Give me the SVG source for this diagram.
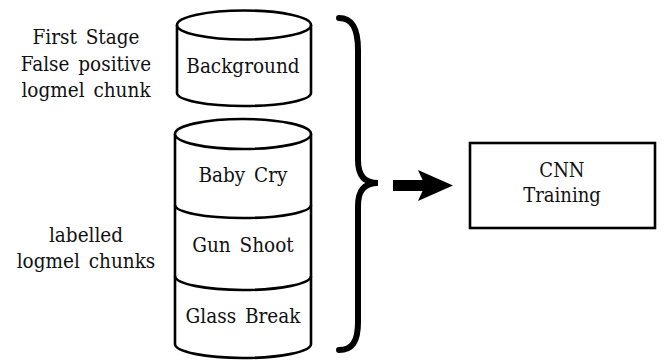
<svg xmlns="http://www.w3.org/2000/svg" width="667" height="360" viewBox="0 0 667 360">
<style>
text{font-family:"DejaVu Serif Condensed","DejaVu Serif","Liberation Serif",serif;font-stretch:condensed;font-size:20.5px;fill:#111;text-anchor:middle;word-spacing:3px}
.s{fill:none;stroke:#000;stroke-width:2.6}
.w{fill:#fff;stroke:#000;stroke-width:2.6}
</style>
<rect width="667" height="360" fill="#fff"/>
<g id="labels">
<text x="86" y="44">First Stage</text>
<text x="86" y="71">False positive</text>
<text x="86" y="97">logmel chunk</text>
<text x="86" y="242">labelled</text>
<text x="86" y="268">logmel chunks</text>
</g>
<g id="background">
<path class="w" d="M177,25 L177,93 A67,13 0 0 0 311,93 L311,25"/>
<ellipse class="w" cx="244" cy="25" rx="67" ry="14.5"/>
<text x="243" y="73">Background</text>
</g>
<g id="labelled-stack">
<path class="w" d="M175,134 L175,344 A68,14 0 0 0 311,344 L311,134"/>
<ellipse class="w" cx="243" cy="134" rx="68" ry="15"/>
<path class="s" d="M175,205 A68,13 0 0 0 311,205"/>
<path class="s" d="M175,276 A68,14 0 0 0 311,276"/>
<text x="243" y="182">Baby Cry</text>
<text x="243" y="252">Gun Shoot</text>
<text x="243" y="323">Glass Break</text>
</g>
<g id="cnn">
<rect class="w" x="470" y="143" width="185" height="85"/>
<text x="562" y="177" style="font-size:20px">CNN</text>
<text x="562" y="202" style="font-size:20px">Training</text>
</g>
<g id="connectors">
<path d="M339,18 C352,18 358,28 358,50 L358,160 C358,175 364,183 378,183 C364,183 358,191 358,206 L358,322 C358,342 352,350 339,350" fill="none" stroke="#000" stroke-width="6" stroke-linecap="round"/>
<rect x="393" y="180" width="32" height="11" fill="#000"/>
<polygon points="418,170 453,185.5 418,201 425,185.5" fill="#000"/>
</g>
</svg>
